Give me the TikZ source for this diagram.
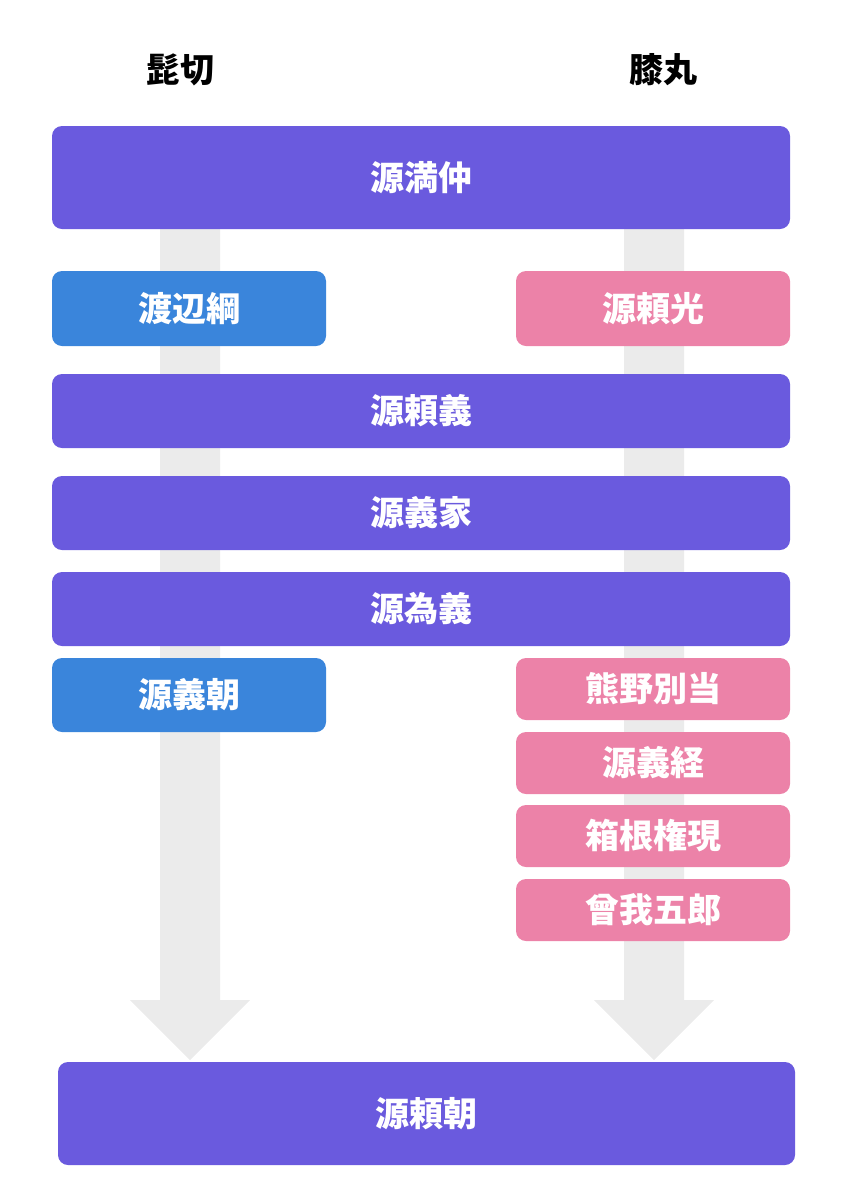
\documentclass[tikz,border=0pt]{standalone}
\usepackage{fontspec}
\newfontfamily\cjk{Noto Sans CJK JP}
\definecolor{pur}{HTML}{6A5ADE}
\definecolor{blu}{HTML}{3A85DB}
\definecolor{pnk}{HTML}{EC82A8}
\definecolor{arr}{HTML}{EBEBEB}
\begin{document}
\begin{tikzpicture}[x=1pt,y=-1pt,
 box/.style={rounded corners=9pt,font=\cjk\bfseries\fontsize{34}{40}\selectfont,text=white},
 hdr/.style={font=\cjk\bfseries\fontsize{34}{40}\selectfont}]
\useasboundingbox (0,0) rectangle (849,1200);
\fill[arr] (160,229) -- (220,229) -- (220,1000) -- (250,1000) -- (190,1060) -- (130,1000) -- (160,1000) -- cycle;
\fill[arr] (624,229) -- (684,229) -- (684,1000) -- (714,1000) -- (654,1060) -- (594,1000) -- (624,1000) -- cycle;
\node[hdr] (h1) at (180,70) {髭切};
\node[hdr] (h2) at (663,70) {膝丸};
\newcommand\bx[6]{\fill[#6,rounded corners=10pt] (#2,#3) rectangle (#4,#5);
 \node[box] (#1) at ({(#2+#4)/2},{(#3+#5)/2}) {\csname txt#1\endcsname};}
\def\txta{源満仲}\def\txtb{渡辺綱}\def\txtc{源頼光}\def\txtd{源頼義}\def\txte{源義家}
\def\txtf{源為義}\def\txtg{源義朝}\def\txth{熊野別当}\def\txti{源義経}\def\txtj{箱根権現}
\def\txtk{曾我五郎}\def\txtl{源頼朝}
\bx{a}{52}{126}{790}{229}{pur}
\bx{b}{52}{271}{326}{346}{blu}
\bx{c}{516}{271}{790}{346}{pnk}
\bx{d}{52}{374}{790}{448}{pur}
\bx{e}{52}{476}{790}{550}{pur}
\bx{f}{52}{572}{790}{646}{pur}
\bx{g}{52}{658}{326}{732}{blu}
\bx{h}{516}{658}{790}{720}{pnk}
\bx{i}{516}{732}{790}{794}{pnk}
\bx{j}{516}{805}{790}{867}{pnk}
\bx{k}{516}{879}{790}{941}{pnk}
\bx{l}{58}{1062}{795}{1165}{pur}
\end{tikzpicture}
\end{document}
